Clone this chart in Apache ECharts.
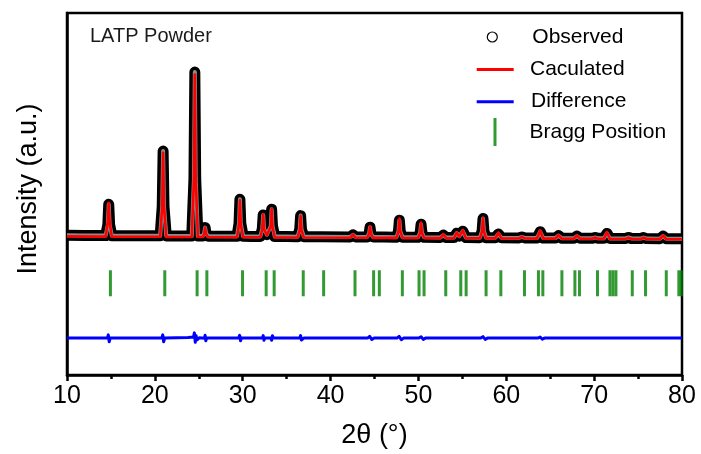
<!DOCTYPE html>
<html>
<head>
<meta charset="utf-8">
<script src="https://cdn.jsdelivr.net/npm/echarts@6/dist/echarts.min.js"></script>
<style>
html,body{margin:0;padding:0;background:#fff;}
#chart{width:701px;height:454px;}
</style>
</head>
<body>
<div id="chart"></div>
<script>
// ---- data (2θ in degrees, intensity in arbitrary units) ----
const observed = [
  [10,318],[12,314],[14.4,311],
  [14.65,532],[14.75,943],[14.85,532],[15.1,310],
  [17,309],[20.6,306],
  [20.84,904],[20.94,2015],[21.04,904],[21.3,305],
  [23,304],[24.2,302],
  [24.45,1459],[24.55,3609],[24.65,1459],[24.9,301],
  [25.45,301],[25.62,360],[25.72,472],[25.82,360],[26.05,300],
  [28,298],[29.35,297],
  [29.58,558],[29.68,1043],[29.78,558],[30.05,296],
  [31,295],[32.0,294],
  [32.23,446],[32.33,728],[32.43,446],[32.75,330],
  [33.19,500],[33.29,842],[33.39,500],[33.65,292],
  [35,291],[36.25,290],
  [36.49,438],[36.59,714],[36.69,438],[36.95,289],
  [39,287],[42.25,285],[42.55,325],[42.85,284],
  [44.15,283],[44.39,352],[44.49,480],[44.59,352],[44.85,282],
  [46,281],[47.5,279],
  [47.73,398],[47.83,620],[47.93,398],[48.2,278],
  [49.95,277],[50.2,369],[50.3,541],[50.4,369],[50.65,276],
  [52.5,275],[52.84,320],[53.15,274],
  [54.05,273],[54.36,360],[54.65,300],[55.05,400],[55.4,272],
  [57.0,270],[57.25,405],[57.35,655],[57.45,405],[57.7,269],
  [58.75,268],[59.1,345],[59.45,267],
  [61.45,265],[61.77,285],[62.1,264],
  [63.5,263],[63.86,390],[64.2,262],
  [65.6,261],[65.94,310],[66.3,260],
  [67.7,259],[68.04,300],[68.4,258],
  [69.8,257],[70.12,275],[70.45,256],
  [71.1,256],[71.46,355],[71.8,255],
  [73.6,253],[73.92,275],[74.25,253],
  [75.3,252],[75.63,272],[75.95,251],
  [77.5,250],[77.84,300],[78.2,249],
  [80,248]
];

const calculated = [
  [10,295],[14.4,291],
  [14.65,590],[14.75,975],[14.85,590],[15.1,290],
  [20.6,287],[20.84,906],[20.94,1980],[21.04,906],[21.3,286],
  [24.2,284],[24.45,1460],[24.55,3557],[24.65,1460],[24.9,283],
  [25.45,283],[25.62,350],[25.72,472],[25.82,350],[26.05,282],
  [29.35,279],[29.58,540],[29.68,1023],[29.78,540],[30.05,279],
  [32.0,277],[32.23,440],[32.33,742],[32.43,440],[32.75,320],
  [33.19,490],[33.29,854],[33.39,490],[33.65,276],
  [36.25,274],[36.49,420],[36.59,708],[36.69,420],[36.95,273],
  [42.25,269],[42.55,335],[42.85,268],
  [44.15,267],[44.39,350],[44.49,500],[44.59,350],[44.85,266],
  [47.5,265],[47.73,400],[47.83,655],[47.93,400],[48.2,264],
  [49.95,263],[50.2,370],[50.3,573],[50.4,370],[50.65,262],
  [52.5,261],[52.84,340],[53.15,260],
  [54.05,259],[54.36,372],[54.65,290],[55.05,420],[55.4,258],
  [57.0,257],[57.25,400],[57.35,660],[57.45,400],[57.7,256],
  [58.75,255],[59.1,370],[59.45,255],
  [61.45,253],[61.77,290],[62.1,253],
  [63.5,251],[63.86,415],[64.2,251],
  [65.6,250],[65.94,320],[66.3,249],
  [67.7,248],[68.04,315],[68.4,248],
  [69.8,247],[70.12,272],[70.45,246],
  [71.1,246],[71.46,380],[71.8,245],
  [73.6,244],[73.92,271],[74.25,243],
  [75.3,242],[75.63,270],[75.95,242],
  [77.5,240],[77.84,315],[78.2,239],
  [80,239]
];

const difference = [
  [10,-1752],
  [14.6,-1755],[14.7,-1690],[14.8,-1830],[14.92,-1755],
  [20.8,-1750],[20.9,-1690],[21.0,-1830],[21.12,-1755],
  [23.8,-1745],[24.4,-1735],[24.5,-1650],[24.6,-1840],[24.7,-1710],[24.8,-1790],[25.05,-1750],
  [25.65,-1758],[25.72,-1700],[25.8,-1810],[25.9,-1755],
  [29.55,-1755],[29.65,-1700],[29.75,-1810],[29.85,-1755],
  [32.25,-1755],[32.33,-1705],[32.42,-1800],[32.52,-1753],
  [33.2,-1755],[33.29,-1800],[33.38,-1708],[33.5,-1755],
  [36.5,-1755],[36.59,-1705],[36.68,-1795],[36.95,-1755],
  [44.2,-1756],[44.45,-1722],[44.7,-1785],[44.95,-1756],
  [47.55,-1756],[47.8,-1722],[48.05,-1788],[48.3,-1756],
  [50.05,-1756],[50.3,-1728],[50.55,-1782],[50.8,-1756],
  [57.1,-1756],[57.35,-1726],[57.6,-1782],[57.85,-1756],
  [63.6,-1756],[63.85,-1734],[64.1,-1778],[64.35,-1756],
  [80,-1756]
];

const braggPositions = [14.94, 21.13, 24.81, 25.92, 29.98, 32.67, 33.58, 36.89, 39.21, 42.78,
  44.9, 45.55, 48.17, 50.07, 50.64, 53.11, 54.82, 55.43, 57.70, 59.38, 62.07, 63.66, 64.16,
  66.33, 67.81, 68.33, 70.38, 71.8, 72.14, 72.48, 74.34, 75.85, 78.21, 79.64, 79.93];
const braggLevel = -650;

const xTicks = [10, 20, 30, 40, 50, 60, 70, 80];
const seriesNames = ['Observed', 'Caculated', 'Difference', 'Bragg Position'];

// ---- chart ----
const FONT = '"Liberation Sans", Arial, Helvetica, sans-serif';
const chart = echarts.init(document.getElementById('chart'), null, {renderer: 'canvas'});

function legendBox(name, icon, left, top, w, h, pad, extraStyle) {
  const item = {name: name, icon: icon};
  if (extraStyle) item.itemStyle = extraStyle;
  return {
    data: [item], left: left, top: top, padding: 0,
    itemWidth: w, itemHeight: h, selectedMode: false,
    textStyle: {fontSize: 21, color: '#000', fontFamily: FONT, padding: [0, 0, 0, pad]}
  };
}

chart.setOption({
  animation: false,
  backgroundColor: '#fff',
  title: {
    text: 'LATP Powder', left: 90, top: 26, padding: 0,
    textStyle: {fontSize: 20, fontWeight: 'normal', color: '#1a1a1a', fontFamily: FONT}
  },
  legend: [
    legendBox(seriesNames[0], 'circle', 486.7, 26.5, 10, 10, 30, {color: '#fff', borderColor: '#000', borderWidth: 1.2}),
    legendBox(seriesNames[1], 'rect', 476.7, 59, 37, 3, 11.3),
    legendBox(seriesNames[2], 'rect', 476.7, 91.2, 37, 3, 12.3),
    legendBox(seriesNames[3], 'rect', 493.5, 118, 3, 28, 28)
  ],
  grid: {left: 67, right: 19, top: 13, bottom: 78, show: true, borderColor: '#000', borderWidth: 2.5},
  xAxis: {
    type: 'value', min: xTicks[0], max: xTicks[xTicks.length - 1], interval: 10,
    axisLine: {onZero: false, lineStyle: {color: '#000', width: 2.5}},
    axisTick: {inside: false, length: 6, lineStyle: {color: '#000', width: 2.5}},
    minorTick: {show: true, splitNumber: 2, length: 4, lineStyle: {color: '#000', width: 2.5}},
    axisLabel: {fontSize: 25, color: '#000', margin: 9, fontFamily: FONT},
    splitLine: {show: false},
    name: '2θ (°)', nameLocation: 'middle', nameGap: 47,
    nameTextStyle: {fontSize: 27, color: '#000', fontFamily: FONT}
  },
  yAxis: {
    type: 'value', min: -2500, max: 4800,
    axisLine: {show: true, onZero: false, lineStyle: {color: '#000', width: 2.5}},
    axisTick: {show: false}, axisLabel: {show: false}, splitLine: {show: false},
    name: 'Intensity (a.u.)', nameLocation: 'middle', nameGap: 25,
    nameTextStyle: {fontSize: 27, color: '#000', fontFamily: FONT, padding: [0, 0, 0, 10]}
  },
  series: [
    {
      name: seriesNames[0], type: 'line', data: observed, showSymbol: false, symbol: 'circle',
      color: '#000', lineStyle: {color: '#000', width: 11, cap: 'butt', join: 'round'}, z: 2
    },
    {
      // lighter core of the observed band (same data), mimicking stacked open circles
      name: seriesNames[0], type: 'line', data: observed, showSymbol: false, symbol: 'circle',
      color: '#000', lineStyle: {color: '#8c8c8c', width: 4, cap: 'butt', join: 'round'}, z: 2.5
    },
    {
      name: seriesNames[1], type: 'line', data: calculated, showSymbol: false,
      color: '#ff0000', lineStyle: {color: '#ff0000', width: 2.6, join: 'round'}, z: 3
    },
    {
      name: seriesNames[2], type: 'line', data: difference, showSymbol: false,
      color: '#0000ff', lineStyle: {color: '#0000ff', width: 3, join: 'round'}, z: 3
    },
    {
      name: seriesNames[3], type: 'scatter', data: braggPositions.map(function (p) { return [p, braggLevel]; }),
      symbol: 'rect', symbolSize: [3, 26], color: '#008000', itemStyle: {color: '#008000'}, z: 3
    }
  ]
});
</script>
</body>
</html>
